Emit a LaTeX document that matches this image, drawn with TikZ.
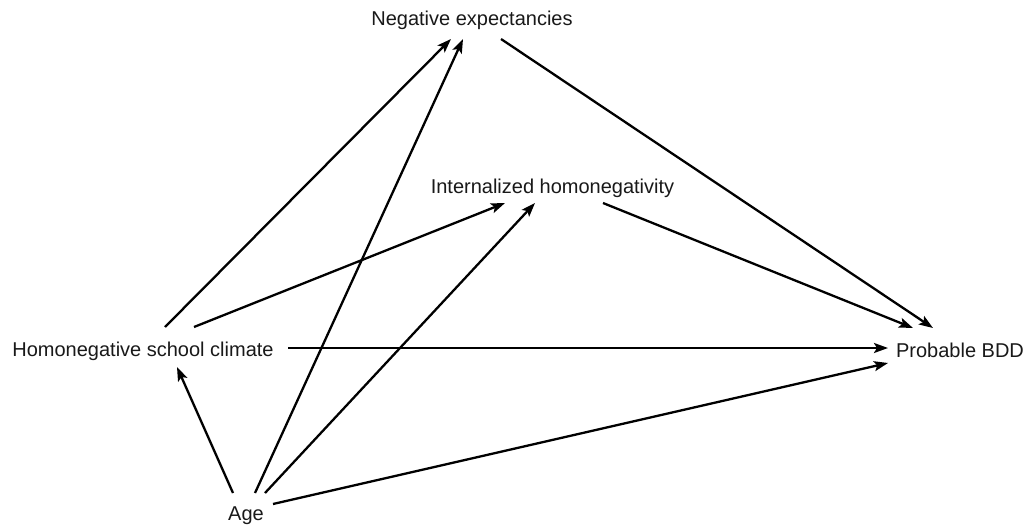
\documentclass[tikz,border=0pt]{standalone}
\usepackage{fontspec}
\setmainfont{Liberation Sans}
\usetikzlibrary{arrows.meta}
\begin{document}
\begin{tikzpicture}[x=1pt,y=-1pt,
  lbl/.style={inner sep=0pt,anchor=base,text=black!90,font=\fontsize{20}{24}\selectfont},
  edge/.style={line width=2.3pt,-{Stealth[length=14pt,width=10pt,inset=3pt]}}]
\useasboundingbox[fill=white] (0,0) rectangle (1034,527);
\node[lbl] (ne)  at (472,26)  {Negative expectancies};
\node[lbl] (ih)  at (552.5,193) {Internalized homonegativity};
\node[lbl] (hsc) at (143,356) {Homonegative school climate};
\node[lbl] (bdd) at (960,357) {Probable BDD};
\node[lbl] (age) at (246,520) {Age};
\draw[edge] ([shift={(22,-29)}]hsc.base) -- ([shift={(-21,13)}]ne.base);
\draw[edge] ([shift={(9,-27)}]age.base) -- ([shift={(-9,13)}]ne.base);
\draw[edge] ([shift={(29,13)}]ne.base) -- ([shift={(-27,-29)}]bdd.base);
\draw[edge] ([shift={(51,-29)}]hsc.base) -- ([shift={(-47.5,10)}]ih.base);
\draw[edge] ([shift={(19,-27)}]age.base) -- ([shift={(-17.5,10)}]ih.base);
\draw[edge] ([shift={(50.5,10)}]ih.base) -- ([shift={(-47,-29)}]bdd.base);
\draw[edge] ([shift={(145,-8)}]hsc.base) -- ([shift={(-72,-9)}]bdd.base);
\draw[edge] ([shift={(-13,-27)}]age.base) -- ([shift={(34,11)}]hsc.base);
\draw[edge] ([shift={(27,-16)}]age.base) -- ([shift={(-72,6)}]bdd.base);
\end{tikzpicture}
\end{document}
